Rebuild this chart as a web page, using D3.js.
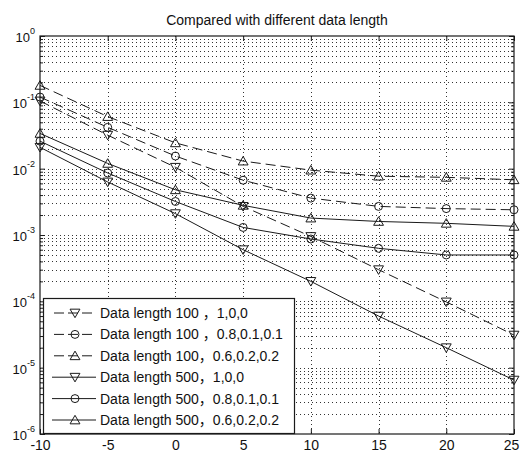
<!DOCTYPE html>
<html lang="en">
<head>
<meta charset="UTF-8">
<title>Compared with different data length</title>
<script src="https://cdnjs.cloudflare.com/ajax/libs/d3/7.8.5/d3.min.js"></script>
<style>
    body { margin: 0; background: #fff; }
    text { font-family: Arial, "Liberation Sans", "Noto Sans CJK SC", sans-serif; fill: #111; }
</style>
</head>
<body>
<svg id="chart" width="520" height="452"></svg>

<script>
    // x values (SNR) and the six curves
    var snr = [-10, -5, 0, 5, 10, 15, 20, 25];

    var dl100_100 = [0.105, 0.032, 0.0105, 0.0027, 0.00095, 0.0003, 0.000098, 0.000031];
    var dl100_811 = [0.12, 0.042, 0.0155, 0.0067, 0.0036, 0.0027, 0.0025, 0.0024];
    var dl100_622 = [0.18, 0.061, 0.0245, 0.013, 0.0095, 0.0077, 0.0074, 0.0068];
    var dl500_100 = [0.021, 0.0063, 0.0021, 0.0006, 0.0002, 0.00006, 0.00002, 0.0000065];
    var dl500_811 = [0.026, 0.0086, 0.0032, 0.0013, 0.00087, 0.00063, 0.0005, 0.0005];
    var dl500_622 = [0.034, 0.012, 0.0048, 0.0028, 0.0018, 0.0016, 0.0015, 0.00135];

    var labels = [
        'Data length 100 \uFF0C1,0,0',
        'Data length 100 \uFF0C0.8,0.1,0.1',
        'Data length 100\uFF0C0.6,0.2,0.2',
        'Data length 500\uFF0C1,0,0',
        'Data length 500\uFF0C0.8,0.1,0.1',
        'Data length 500\uFF0C0.6,0.2,0.2'
    ];
    var xTicks = [-10, -5, 0, 5, 10, 15, 20, 25];
    var yExponents = [0, -1, -2, -3, -4, -5, -6];

    var series = [
        {values: dl100_100, marker: 'down', dashed: true},
        {values: dl100_811, marker: 'circle', dashed: true},
        {values: dl100_622, marker: 'up', dashed: true},
        {values: dl500_100, marker: 'down', dashed: false},
        {values: dl500_811, marker: 'circle', dashed: false},
        {values: dl500_622, marker: 'up', dashed: false}
    ];
    series.forEach(function (s, i) { s.label = labels[i]; });

    var margin = {top: 36, right: 6, bottom: 18, left: 40};
    var width = 520 - margin.left - margin.right;
    var height = 452 - margin.top - margin.bottom;
    var ink = '#1a1a1a';

    var svg = d3.select('#chart');
    var g = svg.append('g').attr('transform', 'translate(' + margin.left + ',' + margin.top + ')');

    var x = d3.scaleLinear().domain([-10, 25]).range([0, width]);
    var y = d3.scaleLog().domain([1e-6, 1]).range([height, 0]);

    // grid values: every k*10^e
    var minorVals = [];
    for (var e = -6; e < 0; e++) {
        for (var k = 2; k <= 9; k++) minorVals.push(k * Math.pow(10, e));
    }
    var decadeVals = yExponents.map(function (p) { return Math.pow(10, p); });

    g.append('rect').attr('width', width).attr('height', height).attr('fill', '#fff');

    var grid = g.append('g').attr('stroke', '#333').attr('stroke-width', 1).attr('stroke-dasharray', '1,3');
    grid.selectAll('.hgrid')
        .data(minorVals.concat(decadeVals.slice(1, -1)))
        .enter().append('line')
        .attr('x1', 0).attr('x2', width)
        .attr('y1', function (d) { return Math.round(y(d)) + 0.5; })
        .attr('y2', function (d) { return Math.round(y(d)) + 0.5; });
    grid.selectAll('.vgrid')
        .data(xTicks.slice(1, -1))
        .enter().append('line')
        .attr('y1', 0).attr('y2', height)
        .attr('x1', function (d) { return Math.round(x(d)) + 0.5; })
        .attr('x2', function (d) { return Math.round(x(d)) + 0.5; });

    // inward ticks on all four sides
    function styleAxis(sel) {
        sel.select('.domain').remove();
        sel.selectAll('line').attr('stroke', ink);
    }
    var xAxisG = g.append('g').attr('transform', 'translate(0,' + height + ')')
        .call(d3.axisBottom(x).tickValues(xTicks).tickSize(-5).tickPadding(6)
            .tickFormat(function (d) { return String(d); }))
        .call(styleAxis);
    xAxisG.selectAll('text').attr('font-size', '14px').attr('font-family', null).attr('fill', ink)
        .attr('dx', function (d) { return d === 25 ? -3 : 0; });
    g.append('g')
        .call(d3.axisTop(x).tickValues(xTicks).tickSize(-5).tickFormat(''))
        .call(styleAxis);
    g.append('g').call(d3.axisLeft(y).tickValues(decadeVals).tickSize(-5).tickFormat('')).call(styleAxis);
    g.append('g').call(d3.axisLeft(y).tickValues(minorVals).tickSize(-3).tickFormat('')).call(styleAxis);
    g.append('g').attr('transform', 'translate(' + width + ',0)')
        .call(d3.axisRight(y).tickValues(decadeVals).tickSize(-5).tickFormat('')).call(styleAxis);
    g.append('g').attr('transform', 'translate(' + width + ',0)')
        .call(d3.axisRight(y).tickValues(minorVals).tickSize(-3).tickFormat('')).call(styleAxis);

    // y labels 10^n
    var yl = g.append('g').selectAll('text').data(yExponents).enter().append('text')
        .attr('x', -5)
        .attr('y', function (d) { return y(Math.pow(10, d)) + 6; })
        .attr('text-anchor', 'end')
        .attr('font-size', '13px');
    yl.append('tspan').text('10');
    yl.append('tspan').attr('dy', -8).attr('font-size', '9px').text(function (d) { return String(d); });

    // curves
    var line = d3.line()
        .x(function (d) { return x(d[0]); })
        .y(function (d) { return y(d[1]); });

    function markerPath(type) {
        if (type === 'circle') return d3.symbol().type(d3.symbolCircle).size(50)();
        return d3.symbol().type(d3.symbolTriangle).size(42)();
    }
    function markerTransform(type, px, py) {
        if (type === 'down') return 'translate(' + px + ',' + (py - 1) + ') rotate(180)';
        if (type === 'up') return 'translate(' + px + ',' + (py + 1) + ')';
        return 'translate(' + px + ',' + py + ')';
    }

    series.forEach(function (s) {
        var pts = snr.map(function (v, i) { return [v, s.values[i]]; });
        g.append('path')
            .attr('d', line(pts))
            .attr('fill', 'none')
            .attr('stroke', ink)
            .attr('stroke-width', 1)
            .attr('stroke-dasharray', s.dashed ? '10,5' : null);
        g.append('g').selectAll('path').data(pts).enter().append('path')
            .attr('d', markerPath(s.marker))
            .attr('transform', function (d) { return markerTransform(s.marker, x(d[0]), y(d[1])); })
            .attr('fill', 'none')
            .attr('stroke', ink)
            .attr('stroke-width', 1);
    });

    // border
    g.append('rect').attr('width', width).attr('height', height)
        .attr('fill', 'none').attr('stroke', ink).attr('stroke-width', 1.2);

    // legend
    var legend = g.append('g').attr('transform', 'translate(3,' + (height - 136) + ')');
    legend.append('rect').attr('x', 0.5).attr('y', 0.5).attr('width', 251).attr('height', 135)
        .attr('fill', '#fff').attr('stroke', ink).attr('stroke-width', 1.2);
    var rows = legend.selectAll('.row').data(series).enter().append('g')
        .attr('transform', function (d, i) { return 'translate(0,' + (15 + i * 21.4) + ')'; });
    rows.append('line')
        .attr('x1', function (d) { return d.dashed ? 11 : 9; })
        .attr('x2', 53)
        .attr('stroke', ink)
        .attr('stroke-dasharray', function (d) { return d.dashed ? '10,4' : null; });
    rows.append('path')
        .attr('d', function (d) { return markerPath(d.marker); })
        .attr('transform', function (d) { return markerTransform(d.marker, 32, 0); })
        .attr('fill', 'none').attr('stroke', ink);
    rows.append('text')
        .attr('x', 57).attr('y', 5)
        .attr('font-size', '14px')
        .text(function (d) { return d.label; });

    // title
    svg.append('text')
        .attr('x', margin.left + width / 2)
        .attr('y', 25)
        .attr('text-anchor', 'middle')
        .attr('font-size', '14px')
        .text('Compared with different data length');
</script>
</body>
</html>
